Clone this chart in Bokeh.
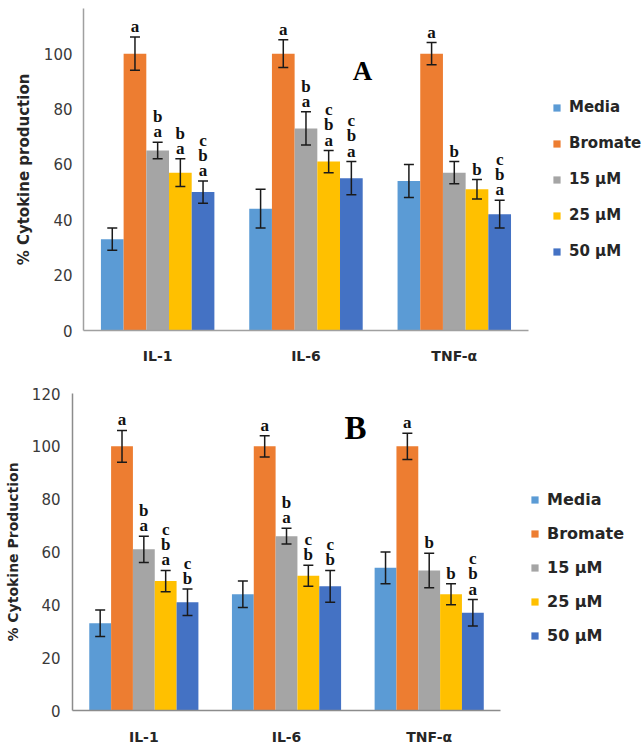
from bokeh.plotting import figure
from bokeh.models import (ColumnDataSource, Whisker, TeeHead, Legend, LegendItem, Label,
                          SingleIntervalTicker, FixedTicker, Range1d, Spacer)
from bokeh.layouts import column, row
from bokeh.embed import file_html
from bokeh.resources import INLINE
from bokeh.core.properties import value

categories = ["IL-1", "IL-6", "TNF-α"]
series_names = ["Media", "Bromate", "15 μM", "25 μM", "50 μM"]
colors = ["#5B9BD5", "#ED7D31", "#A5A5A5", "#FFC000", "#4472C4"]

# Panel A
media_A = [33, 44, 54]
bromate_A = [100, 100, 100]
um15_A = [65, 73, 57]
um25_A = [57, 61, 51]
um50_A = [50, 55, 42]
media_A_err = [4, 7, 6]
bromate_A_err = [6, 5, 4]
um15_A_err = [3, 6, 4]
um25_A_err = [5, 4, 3.5]
um50_A_err = [4, 6, 5]
media_A_let = ["", "", ""]
bromate_A_let = ["a", "a", "a"]
um15_A_let = ["b\na", "b\na", "b"]
um25_A_let = ["b\na", "c\nb\na", "b"]
um50_A_let = ["c\nb\na", "c\nb\na", "c\nb\na"]

# Panel B
media_B = [33, 44, 54]
bromate_B = [100, 100, 100]
um15_B = [61, 66, 53]
um25_B = [49, 51, 44]
um50_B = [41, 47, 37]
media_B_err = [5, 5, 6]
bromate_B_err = [6, 4, 5]
um15_B_err = [5, 3, 6.5]
um25_B_err = [4, 4, 4]
um50_B_err = [5, 6, 5]
media_B_let = ["", "", ""]
bromate_B_let = ["a", "a", "a"]
um15_B_let = ["b\na", "b\na", "b"]
um25_B_let = ["c\nb\na", "c\nb", "b"]
um50_B_let = ["c\nb", "c\nb", "c\nb\na"]

offsets = [-0.306, -0.153, 0.0, 0.153, 0.306]
BAR_W = 0.153
cat_pos = [i + 0.5 for i in range(len(categories))]
SANS = "DejaVu Sans"


def make_panel(means, errs, lets, width, height, borders, xmax, ymax, ylabel, ylabel_size,
               axis_color, panel_letter, letter_pos, letter_size, legend_loc, legend_spacing,
               legend_font, axis_label_standoff, tick_standoff, cat_standoff):
    p = figure(x_range=Range1d(0, xmax), y_range=Range1d(0, ymax), width=width, height=height,
               output_backend="svg", toolbar_location=None,
               min_border_left=borders[0], min_border_right=borders[1],
               min_border_top=borders[2], min_border_bottom=borders[3])
    p.outline_line_color = None
    p.xgrid.grid_line_color = None
    p.ygrid.grid_line_color = None
    p.background_fill_color = "white"
    p.border_fill_color = "white"

    items = []
    for i, name in enumerate(series_names):
        m = means[i]
        e = errs[i]
        src = ColumnDataSource(dict(
            x=[c + offsets[i] for c in cat_pos], top=m,
            upper=[a + b for a, b in zip(m, e)],
            lower=[a - b for a, b in zip(m, e)],
            let=lets[i],
        ))
        r = p.vbar(x="x", top="top", width=BAR_W, source=src, fill_color=colors[i],
                   line_color=None)
        items.append(LegendItem(label=name, renderers=[r]))
        w = Whisker(base="x", upper="upper", lower="lower", source=src,
                    line_color="#1a1a1a", line_width=1.5, level="overlay",
                    upper_head=TeeHead(size=10, line_width=1.5, line_color="#1a1a1a"),
                    lower_head=TeeHead(size=10, line_width=1.5, line_color="#1a1a1a"))
        p.add_layout(w)
        p.text(x="x", y="upper", text="let", source=src, text_font=value("Liberation Serif"),
               text_font_style="bold", text_font_size="17px", text_align="center",
               text_baseline="bottom", text_line_height=0.8, y_offset=-1,
               text_color="#111111")

    legend = Legend(items=items, location=legend_loc, glyph_width=9, glyph_height=9,
                    label_height=20, spacing=legend_spacing, padding=0, margin=0,
                    label_standoff=8, border_line_alpha=0, background_fill_alpha=0,
                    label_text_font=SANS, label_text_font_style="bold",
                    label_text_font_size=legend_font, label_text_color="#262626")
    p.add_layout(legend)

    p.add_layout(Label(x=letter_pos[0], y=letter_pos[1], text=panel_letter,
                       text_font="Liberation Serif", text_font_style="bold",
                       text_font_size=letter_size, text_align="center",
                       text_baseline="middle", text_color="#000000"))

    p.xaxis.ticker = FixedTicker(ticks=cat_pos)
    p.xaxis.major_label_overrides = {c: lab for c, lab in zip(cat_pos, categories)}
    p.xaxis.bounds = (0, len(categories))
    p.yaxis.ticker = SingleIntervalTicker(interval=20)
    p.yaxis.axis_label = ylabel
    p.yaxis.axis_label_text_font = SANS
    p.yaxis.axis_label_text_font_style = "bold"
    p.yaxis.axis_label_text_font_size = ylabel_size
    p.yaxis.axis_label_text_color = "#262626"
    p.yaxis.axis_label_standoff = axis_label_standoff
    p.yaxis.major_label_text_font = SANS
    p.yaxis.major_label_text_font_size = "15px"
    p.yaxis.major_label_text_color = "#3a3a3a"
    p.yaxis.major_label_standoff = tick_standoff
    p.xaxis.major_label_text_font = SANS
    p.xaxis.major_label_text_font_style = "bold"
    p.xaxis.major_label_text_font_size = "14px"
    p.xaxis.major_label_text_color = "#262626"
    p.xaxis.major_label_standoff = cat_standoff
    for ax in (p.xaxis, p.yaxis):
        ax.axis_line_color = axis_color
        ax.axis_line_width = 1.5
        ax.major_tick_line_color = None
        ax.minor_tick_line_color = None
        ax.major_tick_out = 0
        ax.major_tick_in = 0
        ax.minor_tick_out = 0
        ax.minor_tick_in = 0
    return p


pA = make_panel(
    [media_A, bromate_A, um15_A, um25_A, um50_A],
    [media_A_err, bromate_A_err, um15_A_err, um25_A_err, um50_A_err],
    [media_A_let, bromate_A_let, um15_A_let, um25_A_let, um50_A_let],
    631, 372, (72, 0, 8, 42), 3.769, 116.3, "% Cytokine production", "15px",
    "#a0a0a0", "A", (1.881, 93.9), "27px", (469, 69), 16, "15px", 8, 11, 17)

pB = make_panel(
    [media_B, bromate_B, um15_B, um25_B, um50_B],
    [media_B_err, bromate_B_err, um15_B_err, um25_B_err, um50_B_err],
    [media_B_let, bromate_B_let, um15_B_let, um25_B_let, um50_B_let],
    642, 375, (72, 0, 21, 36), 3.995, 120, "% Cytokine Production", "14px",
    "#8c8c8c", "B", (1.983, 106.9), "33px", (458, 65), 14, "16px", 8, 12, 18)

layout = column(row(Spacer(width=11, height=372), pA, spacing=0), pB, spacing=0)
open("out.html", "w").write(file_html(layout, INLINE))
